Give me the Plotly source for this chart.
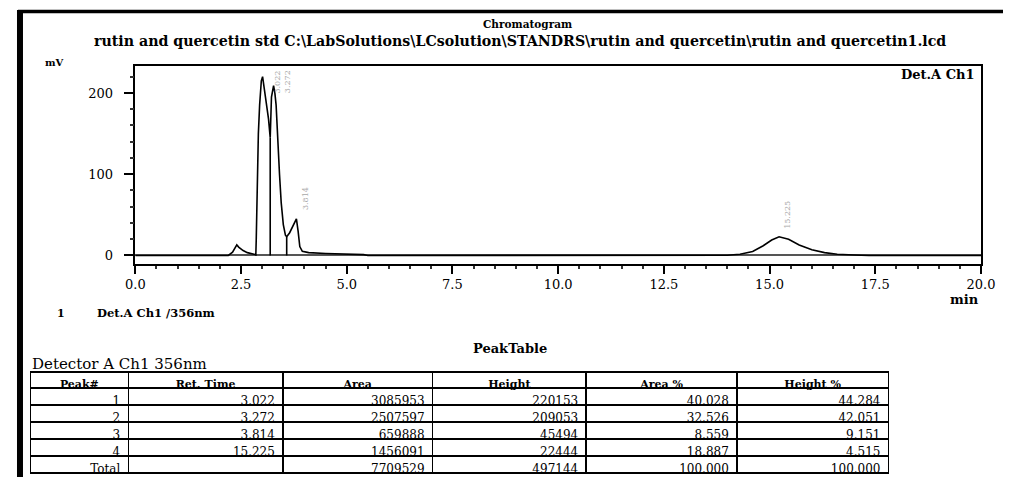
import numpy as np
import plotly.graph_objects as go

# ---------------- data ----------------
time_min = [0.0, 2.2, 2.3, 2.4, 2.45, 2.55, 2.65, 2.8, 2.85, 2.86, 2.88, 2.91, 2.94, 2.98,
            3.01, 3.05, 3.10, 3.15, 3.19, 3.22, 3.27, 3.30, 3.33, 3.37, 3.41, 3.45, 3.50,
            3.55, 3.58, 3.65, 3.72, 3.78, 3.81, 3.85, 3.89, 3.95, 4.1, 4.5, 5.0, 5.4, 5.5,
            14.0, 14.3, 14.6, 14.85, 15.05, 15.225, 15.45, 15.7, 16.0, 16.3, 16.6, 17.0,
            17.3, 17.35, 20.0]
signal_mv = [0.0, 0.0, 4.0, 13.0, 10.0, 6.0, 3.5, 1.5, 1.0, 20.0, 100.0, 150.0, 185.0, 215.0,
             220.0, 205.0, 185.0, 168.0, 145.0, 195.0, 209.0, 200.0, 185.0, 135.0, 100.0, 65.0, 38.0,
             25.0, 23.0, 28.0, 35.0, 42.0, 45.0, 30.0, 11.0, 5.0, 3.5, 2.5, 2.0, 1.0, 0.0,
             0.3, 1.5, 5.0, 12.0, 19.0, 23.0, 20.0, 13.0, 7.0, 3.5, 1.5, 0.5,
             0.3, 0.0, 0.0]
boundary_times = [2.85, 3.19, 3.58]

x_ticks = [0.0, 2.5, 5.0, 7.5, 10.0, 12.5, 15.0, 17.5, 20.0]
x_tick_labels = ["0.0", "2.5", "5.0", "7.5", "10.0", "12.5", "15.0", "17.5", "20.0"]
y_ticks = [0, 100, 200]
y_tick_labels = ["0", "100", "200"]

peak_no = ["1", "2", "3", "4", "Total"]
ret_time = ["3.022", "3.272", "3.814", "15.225", ""]
area = ["3085953", "2507597", "659888", "1456091", "7709529"]
height = ["220153", "209053", "45494", "22444", "497144"]
area_pct = ["40.028", "32.526", "8.559", "18.887", "100.000"]
height_pct = ["44.284", "42.051", "9.151", "4.515", "100.000"]
table_headers = ["Peak#", "Ret. Time", "Area", "Height", "Area %", "Height %"]

title_text = "Chromatogram"
subtitle_text = ("rutin and quercetin std C:\\LabSolutions\\LCsolution\\STANDRS\\rutin and "
                 "quercetin\\rutin and quercetin1.lcd")

# ---------------- page geometry (empirically calibrated) ----------------
W, H = 1020, 469
SX, OX, OY = 0.978, 17.5, 8.0


def px(x):
    return (x - OX) / SX / W


def py(y):
    return 1 - (y - OY) / H


def clamp(v):
    return min(1.0, max(0.0, v))


SERIF = "DejaVu Serif"
x0p, x1p = 135, 982
y_top, y_bot = 65.5, 264
y_range = [-10.5, 233.8]

fig = go.Figure()

fig.add_trace(go.Scatter(x=time_min, y=signal_mv, mode="lines",
                         line=dict(color="black", width=1.6), hoverinfo="skip",
                         showlegend=False))

# drop lines at integration boundaries
bx, by = [], []
for t in boundary_times:
    v = float(np.interp(t, time_min, signal_mv))
    bx += [t, t, None]
    by += [0, v, None]
fig.add_trace(go.Scatter(x=bx, y=by, mode="lines", line=dict(color="black", width=1.6),
                         hoverinfo="skip", showlegend=False))

# peak labels (rotated)
rt_vals = [float(r) for r in ret_time if r]
ht_vals = [float(h) / 1000.0 for h in height[:4]]
label_font = dict(family=SERIF, size=8, color="#a8a8a8")
for i, (rt, hv) in enumerate(zip(rt_vals, ht_vals)):
    if hv > 150:
        fig.add_annotation(x=rt, y=y_range[1], xref="x", yref="y", text=ret_time[i],
                           textangle=-90, showarrow=False, yanchor="top",
                           xanchor="left", xshift=7, yshift=-3, font=label_font)
    else:
        fig.add_annotation(x=rt, y=hv, xref="x", yref="y", text=ret_time[i],
                           textangle=-90, showarrow=False, yanchor="bottom",
                           xanchor="left", xshift=2, yshift=6, font=label_font)

tick_font = dict(family=SERIF, size=13, color="black")
fig.update_xaxes(range=[0, 20], domain=[px(x0p), px(x1p)], tickmode="array",
                 tickvals=x_ticks, ticktext=x_tick_labels, showline=True,
                 linecolor="black", linewidth=1.5, mirror=True, ticks="outside",
                 ticklen=8, tickwidth=1.5, tickcolor="black", showgrid=False,
                 zeroline=False, tickfont=tick_font,
                 minor=dict(dtick=0.5, ticks="outside", ticklen=3, tickwidth=1.5,
                            tickcolor="#333", showgrid=False))
fig.update_yaxes(range=y_range, domain=[py(y_bot), py(y_top)], tickmode="array",
                 tickvals=y_ticks, ticktext=y_tick_labels, showline=True,
                 linecolor="black", linewidth=1.5, mirror=True, ticks="outside",
                 ticklen=10, tickwidth=1.5, tickcolor="black", showgrid=False,
                 zeroline=True, zerolinecolor="#555", zerolinewidth=2.2,
                 ticklabelstandoff=8, tickfont=tick_font,
                 minor=dict(dtick=20, ticks="outside", ticklen=4, tickwidth=1.5,
                            tickcolor="#333", showgrid=False))

# table
fig.add_trace(go.Table(
    domain=dict(x=[px(30), px(890)], y=[clamp(py(475)), py(372)]),
    columnwidth=[98, 155, 150, 154, 151, 152],
    header=dict(values=table_headers, align="center", height=16,
                line=dict(color="black", width=1.5), fill=dict(color="white"),
                font=dict(family=SERIF, size=11, color="black", weight="bold")),
    cells=dict(values=[peak_no, ret_time, area, height, area_pct, height_pct],
               align="right", height=17, line=dict(color="black", width=1.5),
               fill=dict(color="white"),
               font=dict(family=SERIF, size=12, color="black")),
))

anns = [
    (528, 24, title_text, 10.5, "center", "bold"),
    (520, 41, subtitle_text, 14.2, "center", "bold"),
    (43, 62, "mV", 10, "left", "bold"),
    (978, 74, "Det.A Ch1", 13, "right", "bold"),
    (982, 299, "min", 13, "right", "bold"),
    (55, 313, "1", 11, "left", "bold"),
    (95, 313, "Det.A Ch1 /356nm", 11.5, "left", "bold"),
    (510, 348, "PeakTable", 13, "center", "bold"),
    (30, 364, "Detector A Ch1 356nm", 15, "left", "normal"),
]
for x, y, t, s, a, wgt in anns:
    fig.add_annotation(x=px(x), y=py(y), xref="paper", yref="paper", text=t,
                       showarrow=False, xanchor=a, yanchor="middle",
                       font=dict(size=s, family=SERIF, color="black", weight=wgt))

shapes = [
    # outer frame
    dict(type="line", xref="paper", yref="paper", x0=0.002, x1=0.002, y0=py(10),
         y1=py(490), line=dict(color="black", width=6)),
    dict(type="line", xref="paper", yref="paper", x0=0, x1=1, y0=py(11.5),
         y1=py(11.5), line=dict(color="black", width=3.5)),
    # right border extension below axis
    dict(type="line", xref="paper", yref="paper", x0=px(x1p), x1=px(x1p), y0=py(y_bot),
         y1=py(272), line=dict(color="black", width=1.5)),
]
fig.update_layout(width=W, height=H, margin=dict(l=0, r=0, t=0, b=0),
                  paper_bgcolor="white", plot_bgcolor="white", shapes=shapes,
                  showlegend=False)

fig.write_html("out.html")
